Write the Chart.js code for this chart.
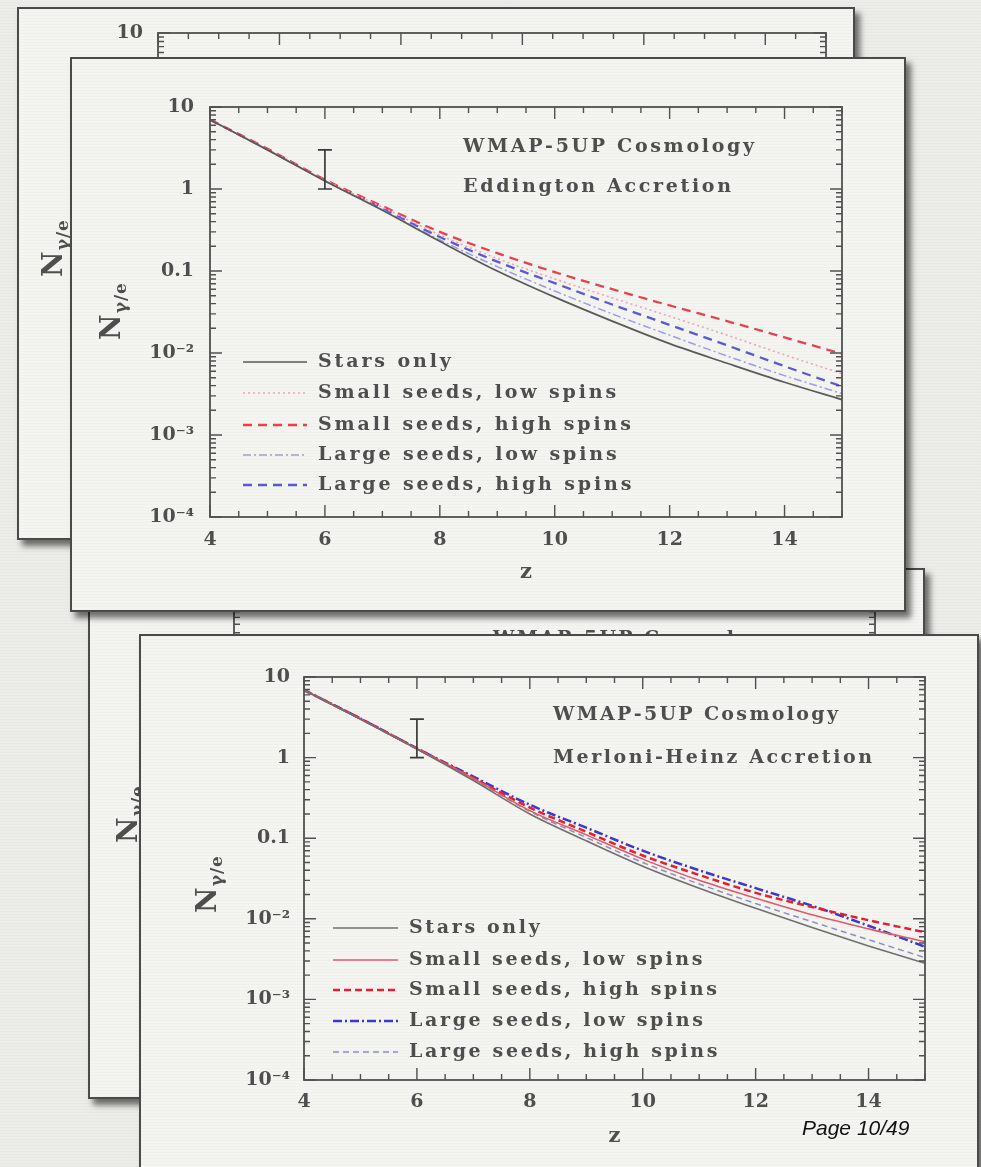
<!DOCTYPE html>
<html>
<head>
<meta charset="utf-8">
<script src="https://cdn.jsdelivr.net/npm/chart.js@4.4.1/dist/chart.umd.min.js"></script>
<style>
  html, body { margin: 0; padding: 0; }
  body {
    width: 981px; height: 1167px; overflow: hidden; position: relative;
    background-color: #ecece9;
    background-image: repeating-linear-gradient(0deg, rgba(0,0,0,0.02) 0px, rgba(0,0,0,0.02) 1px, transparent 1px, transparent 3px);
  }
  .panel {
    position: absolute; box-sizing: border-box; overflow: hidden;
    border: 2px solid #4a4a4a;
    background-color: #f4f4f1;
    background-image: repeating-linear-gradient(0deg, rgba(0,0,0,0.018) 0px, rgba(0,0,0,0.018) 1px, transparent 1px, transparent 3px);
    box-shadow: 5px 6px 6px rgba(0,0,0,0.55);
  }
  .panel canvas { position: absolute; filter: blur(0.5px); }
  #page {
    position: absolute; left: 802px; top: 1116px; z-index: 10;
    font: italic 21px "Liberation Sans", Arial, sans-serif; color: #111;
  }
</style>
</head>
<body>
<div id="page">Page 10/49</div>

<script>
/* ============================================
   N_gamma/e vs z — two stacked slide panels
   ============================================ */

// --- Data ---
const zGrid = [4, 5, 6, 7, 8, 9, 10, 11, 12, 13, 14, 15];
const xTickValues = [4, 6, 8, 10, 12, 14];
const xTickLabels = ['4', '6', '8', '10', '12', '14'];
const yTickValues = [1e-4, 1e-3, 1e-2, 0.1, 1, 10];
const yTickLabels = ['10⁻⁴', '10⁻³', '10⁻²', '0.1', '1', '10'];
const seriesNames = ['Stars only', 'Small seeds, low spins', 'Small seeds, high spins',
                     'Large seeds, low spins', 'Large seeds, high spins'];

// Eddington accretion
const eddStars   = [7.0, 3.0, 1.25, 0.55, 0.23, 0.100, 0.048, 0.0245, 0.0130, 0.0075, 0.0044, 0.0027];
const eddSmallLo = [7.0, 3.05, 1.28, 0.60, 0.275, 0.142, 0.080, 0.047, 0.028, 0.0165, 0.0095, 0.0056];
const eddSmallHi = [7.0, 3.1, 1.30, 0.62, 0.300, 0.165, 0.097, 0.060, 0.038, 0.0245, 0.0155, 0.0098];
const eddLargeLo = [7.0, 3.0, 1.26, 0.56, 0.24, 0.113, 0.057, 0.030, 0.0165, 0.0092, 0.0053, 0.0032];
const eddLargeHi = [7.0, 3.05, 1.28, 0.58, 0.26, 0.130, 0.071, 0.039, 0.022, 0.0124, 0.0069, 0.0039];

// Merloni-Heinz accretion
const mhStars   = [6.9, 3.0, 1.28, 0.52, 0.20, 0.093, 0.045, 0.024, 0.0135, 0.0078, 0.0046, 0.0028];
const mhSmallLo = [6.9, 3.0, 1.29, 0.55, 0.22, 0.110, 0.055, 0.030, 0.018, 0.0112, 0.0075, 0.0052];
const mhSmallHi = [6.9, 3.05, 1.30, 0.56, 0.24, 0.120, 0.061, 0.035, 0.021, 0.0140, 0.0096, 0.0068];
const mhLargeLo = [6.9, 3.05, 1.30, 0.58, 0.26, 0.135, 0.070, 0.040, 0.024, 0.0145, 0.0082, 0.0045];
const mhLargeHi = [6.9, 3.0, 1.28, 0.54, 0.215, 0.102, 0.050, 0.027, 0.0155, 0.0092, 0.0055, 0.0033];

// observed point with error bar
const obsZ = [6];
const obsLow = [1.0];
const obsHigh = [3.0];

// --- Look ---
const W = 981, H = 1167;
const SERIF = '"DejaVu Serif", "Liberation Serif", serif';
const TXT = '#4e4e4e';
const AXIS = '#505050';

const eddStyles = [
  { color: '#5a5a5a', width: 1.7, dash: [] },
  { color: '#f2a2b2', width: 1.6, dash: [2, 3] },
  { color: '#e8424f', width: 2.3, dash: [9, 6] },
  { color: '#9c9cf0', width: 1.5, dash: [8, 3, 2, 3] },
  { color: '#5a5ad8', width: 2.3, dash: [9, 6] },
];
const mhStyles = [
  { color: '#707070', width: 1.6, dash: [] },
  { color: '#e25a6a', width: 1.6, dash: [] },
  { color: '#e62030', width: 2.5, dash: [7, 4] },
  { color: '#3a3ad0', width: 2.5, dash: [9, 3, 2, 3] },
  { color: '#8e8ec4', width: 1.5, dash: [6, 4] },
];

function buildDatasets(list, styles) {
  return list.map((vals, i) => ({
    label: seriesNames[i],
    data: zGrid.map((z, j) => ({ x: z, y: vals[j] })),
    borderColor: styles[i].color,
    borderWidth: styles[i].width,
    borderDash: styles[i].dash,
    pointRadius: 0,
    fill: false,
    cubicInterpolationMode: 'monotone',
  }));
}

// --- Helpers for spaced serif text ---
function charWidth(ctx, str) {
  let w = 0;
  for (const ch of str) w += ctx.measureText(ch).width;
  return w;
}
function spacedText(ctx, str, x, y, gap) {
  let cx = x;
  for (const ch of str) {
    ctx.fillText(ch, cx, y);
    cx += ctx.measureText(ch).width + gap;
  }
}

// --- Frame, inward ticks, error bar, notes, legend, y title ---
const panelDecor = {
  id: 'panelDecor',
  afterDraw(chart, args, o) {
    const ctx = chart.ctx, a = chart.chartArea;
    const xs = chart.scales.x, ys = chart.scales.y;
    ctx.save();
    ctx.strokeStyle = AXIS;
    ctx.lineWidth = 1.8;
    ctx.setLineDash([]);
    ctx.strokeRect(a.left, a.top, a.right - a.left, a.bottom - a.top);

    ctx.lineWidth = 1.4;
    ctx.beginPath();
    for (let z = xs.min; z <= xs.max + 1e-9; z += 0.5) {
      const px = xs.getPixelForValue(z);
      const len = (z % 2 === 0) ? 12 : 6;
      ctx.moveTo(px, a.bottom); ctx.lineTo(px, a.bottom - len);
      ctx.moveTo(px, a.top); ctx.lineTo(px, a.top + len);
    }
    for (let d = ys.min; d < ys.max * 1.0001; d *= 10) {
      for (let k = 1; k <= 9; k++) {
        const v = k * d;
        if (v > ys.max * 1.0001) break;
        const py = ys.getPixelForValue(v);
        const len = k === 1 ? 12 : 6;
        ctx.moveTo(a.left, py); ctx.lineTo(a.left + len, py);
        ctx.moveTo(a.right, py); ctx.lineTo(a.right - len, py);
      }
    }
    ctx.stroke();

    if (o.errors) {
      ctx.strokeStyle = '#3a3a3a';
      ctx.lineWidth = 1.7;
      ctx.beginPath();
      obsZ.forEach((z, i) => {
        const px = xs.getPixelForValue(z);
        const lo = ys.getPixelForValue(obsLow[i]);
        const hi = ys.getPixelForValue(obsHigh[i]);
        ctx.moveTo(px, lo); ctx.lineTo(px, hi);
        ctx.moveTo(px - 7, lo); ctx.lineTo(px + 7, lo);
        ctx.moveTo(px - 7, hi); ctx.lineTo(px + 7, hi);
      });
      ctx.stroke();
    }

    ctx.fillStyle = TXT;
    ctx.font = 'bold 19px ' + SERIF;
    ctx.textBaseline = 'middle';
    ctx.textAlign = 'left';
    (o.notes || []).forEach(n => {
      const gap = (n.w - charWidth(ctx, n.text)) / (n.text.length - 1);
      spacedText(ctx, n.text, n.x, n.y, gap);
    });

    if (o.legend) {
      const L = o.legend;
      const ref = seriesNames[2];
      const gap = (L.refW - charWidth(ctx, ref)) / (ref.length - 1);
      chart.data.datasets.forEach((ds, i) => {
        const ry = L.rows[i];
        ctx.strokeStyle = ds.borderColor;
        ctx.lineWidth = ds.borderWidth;
        ctx.setLineDash(ds.borderDash || []);
        ctx.beginPath();
        ctx.moveTo(L.x0, ry); ctx.lineTo(L.x1, ry);
        ctx.stroke();
        ctx.setLineDash([]);
        spacedText(ctx, ds.label, L.tx, ry, gap);
      });
    }

    if (o.ytitle) {
      ctx.translate(o.ytitle.x, o.ytitle.y);
      ctx.rotate(-Math.PI / 2);
      ctx.font = 'bold 28px ' + SERIF;
      const wN = ctx.measureText('N').width;
      ctx.font = 'bold 17px ' + SERIF;
      const wS = charWidth(ctx, 'γ/e') + 2;
      const x0 = -(wN + wS) / 2;
      ctx.textBaseline = 'alphabetic';
      ctx.font = 'bold 28px ' + SERIF;
      ctx.fillText('N', x0, 8);
      ctx.font = 'bold 17px ' + SERIF;
      spacedText(ctx, 'γ/e', x0 + wN + 1, 14, 1);
    }
    ctx.restore();
  }
};

// --- Chart factory ---
function makeChart(canvasId, { plot, xAxisH, yAxisW, xPad, yPad, datasets, decor }) {
  const canvas = document.getElementById(canvasId);
  const tickFont = { family: SERIF, size: 19, weight: 'bold' };
  return new Chart(canvas, {
    type: 'line',
    data: { datasets },
    options: {
      responsive: false,
      animation: false,
      devicePixelRatio: 1,
      layout: {
        autoPadding: false,
        padding: { left: plot.left - yAxisW, top: plot.top, right: W - plot.right, bottom: H - plot.bottom - xAxisH },
      },
      scales: {
        x: {
          type: 'linear', min: 4, max: 15,
          afterBuildTicks: s => { s.ticks = xTickValues.map(v => ({ value: v })); },
          afterFit: s => { s.height = xAxisH; },
          grid: { display: false, drawTicks: false },
          border: { display: false },
          ticks: { autoSkip: false, maxRotation: 0, padding: xPad, color: TXT,
                   font: tickFont, callback: (v, i) => xTickLabels[i] },
          title: { display: true, text: 'z', color: TXT, padding: 0,
                   font: { family: SERIF, size: 21, weight: 'bold', lineHeight: 1 } },
        },
        y: {
          type: 'logarithmic', min: 1e-4, max: 10,
          afterBuildTicks: s => { s.ticks = yTickValues.map(v => ({ value: v })); },
          afterFit: s => { s.width = yAxisW; },
          grid: { display: false, drawTicks: false },
          border: { display: false },
          ticks: { autoSkip: false, padding: yPad, color: TXT,
                   font: tickFont, callback: (v, i) => yTickLabels[i] },
        },
      },
      plugins: { legend: { display: false }, tooltip: { enabled: false }, panelDecor: decor },
    },
    plugins: [panelDecor],
  });
}

// --- Panels (page coordinates; each canvas spans the page, clipped by its frame) ---
function addPanel(id, x, y, w, h, z) {
  const div = document.createElement('div');
  div.className = 'panel';
  Object.assign(div.style, { left: x + 'px', top: y + 'px', width: w + 'px', height: h + 'px', zIndex: z });
  const c = document.createElement('canvas');
  c.id = id; c.width = W; c.height = H;
  Object.assign(c.style, { left: -(x + 2) + 'px', top: -(y + 2) + 'px', width: W + 'px', height: H + 'px' });
  div.appendChild(c);
  document.body.appendChild(div);
}

addPanel('backTop', 17, 7, 838, 533, 1);
addPanel('backBottom', 88, 568, 837, 531, 2);
addPanel('frontTop', 70, 57, 836, 555, 3);
addPanel('frontBottom', 139, 634, 840, 560, 4);

makeChart('backTop', {
  plot: { left: 158, top: 33, right: 826, bottom: 473 }, xAxisH: 66, yAxisW: 100, xPad: 12, yPad: 15,
  datasets: [],
  decor: { ytitle: { x: 54, y: 249 } },
});

makeChart('backBottom', {
  plot: { left: 234, top: 598, right: 875, bottom: 1035 }, xAxisH: 66, yAxisW: 100, xPad: 12, yPad: 15,
  datasets: [],
  decor: { ytitle: { x: 129, y: 815 }, notes: [{ text: 'WMAP-5UP Cosmology', x: 493, y: 639, w: 285 }] },
});

makeChart('frontTop', {
  plot: { left: 210, top: 107, right: 842, bottom: 517 }, xAxisH: 66, yAxisW: 100, xPad: 12, yPad: 16,
  datasets: buildDatasets([eddStars, eddSmallLo, eddSmallHi, eddLargeLo, eddLargeHi], eddStyles),
  decor: {
    errors: true,
    ytitle: { x: 112, y: 312 },
    notes: [
      { text: 'WMAP-5UP Cosmology', x: 463, y: 147, w: 291 },
      { text: 'Eddington Accretion', x: 463, y: 187, w: 268 },
    ],
    legend: { x0: 243, x1: 307, tx: 318, refW: 313, rows: [362, 393, 425, 455, 485] },
  },
});

makeChart('frontBottom', {
  plot: { left: 304, top: 677, right: 925, bottom: 1080 }, xAxisH: 67, yAxisW: 100, xPad: 11, yPad: 14,
  datasets: buildDatasets([mhStars, mhSmallLo, mhSmallHi, mhLargeLo, mhLargeHi], mhStyles),
  decor: {
    errors: true,
    ytitle: { x: 208, y: 885 },
    notes: [
      { text: 'WMAP-5UP Cosmology', x: 553, y: 715, w: 285 },
      { text: 'Merloni-Heinz Accretion', x: 553, y: 758, w: 319 },
    ],
    legend: { x0: 333, x1: 398, tx: 409, refW: 308, rows: [928, 960, 990, 1021, 1052] },
  },
});
</script>
</body>
</html>
